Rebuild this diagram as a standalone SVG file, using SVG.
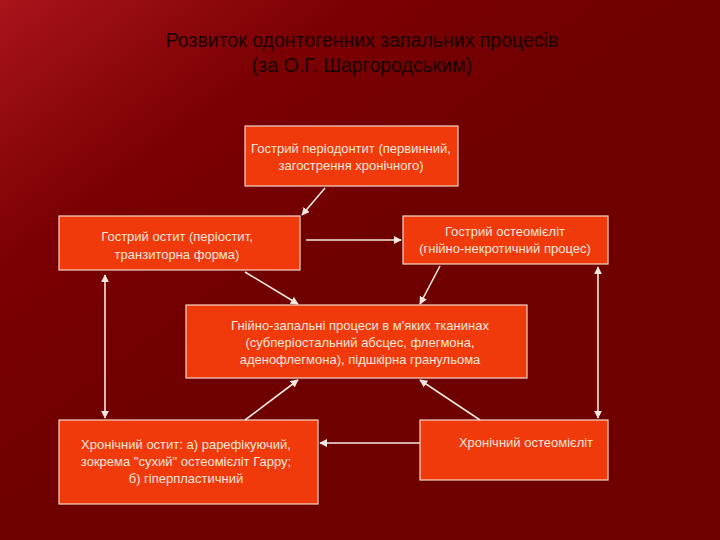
<svg xmlns="http://www.w3.org/2000/svg" width="720" height="540" viewBox="0 0 720 540">
<defs>
<linearGradient id="bg" x1="0" y1="0" x2="0.5" y2="0.5">
<stop offset="0" stop-color="#a8141a"/><stop offset="0.5" stop-color="#7a0004"/><stop offset="1" stop-color="#6e0000"/>
</linearGradient>
<marker id="a" viewBox="0 0 10 10" refX="9" refY="5" markerWidth="5" markerHeight="5" orient="auto-start-reverse"><path d="M0,0L10,5L0,10z" fill="#f4e8e0"/></marker>
<style>
.b{fill:#f03a0c;stroke:#f4d8c8;stroke-width:1.2}
.t{font-family:"Liberation Sans",Arial,sans-serif;font-size:13px;fill:#f6e6da;text-anchor:middle}
.h{font-family:"Liberation Sans",Arial,sans-serif;font-size:19.5px;fill:#1a0000;text-anchor:middle}
.c line{stroke:#f4e8e0;stroke-width:1.6;marker-end:url(#a)}
</style>
</defs>
<rect width="720" height="540" fill="url(#bg)"/>
<text class="h" x="362" y="47">Розвиток одонтогенних запальних процесів</text>
<text class="h" x="362" y="72">(за О.Г. Шаргородським)</text>
<g id="n1"><rect class="b" x="245" y="126" width="213" height="60"/><text class="t" x="351" y="153">Гострий періодонтит (первинний,</text><text class="t" x="351" y="170">загострення хронічного)</text></g>
<g id="n2"><rect class="b" x="59" y="216" width="241" height="54"/><text class="t" x="177" y="241">Гострий остит (періостит,</text><text class="t" x="177" y="259">транзиторна форма)</text></g>
<g id="n3"><rect class="b" x="403" y="216" width="205" height="48"/><text class="t" x="505" y="236">Гострий остеомієліт</text><text class="t" x="505" y="253">(гнійно-некротичний процес)</text></g>
<g id="n4"><rect class="b" x="186" y="305" width="341" height="73"/><text class="t" x="360" y="330">Гнійно-запальні процеси в м'яких тканинах</text><text class="t" x="360" y="347">(субперіостальний абсцес, флегмона,</text><text class="t" x="360" y="364">аденофлегмона), підшкірна гранульома</text></g>
<g id="n5"><rect class="b" x="59" y="420" width="259" height="84"/><text class="t" x="186" y="449">Хронічний остит: а) рарефікуючий,</text><text class="t" x="186" y="466">зокрема "сухий" остеомієліт Гарру;</text><text class="t" x="186" y="483">б) гіперпластичний</text></g>
<g id="n6"><rect class="b" x="420" y="420" width="188" height="60"/><text class="t" x="526" y="447">Хронічний остеомієліт</text></g>
<g class="c" id="connectors">
<line x1="325" y1="188" x2="302" y2="215"/>
<line x1="306" y1="240" x2="401" y2="240"/>
<line x1="245" y1="272" x2="298" y2="304"/>
<line x1="440" y1="266" x2="420" y2="304"/>
<line x1="105" y1="275" x2="105" y2="418" marker-start="url(#a)"/>
<line x1="598" y1="267" x2="598" y2="418" marker-start="url(#a)"/>
<line x1="245" y1="420" x2="298" y2="380"/>
<line x1="480" y1="420" x2="420" y2="380"/>
<line x1="420" y1="443" x2="320" y2="443"/>
</g>
</svg>
